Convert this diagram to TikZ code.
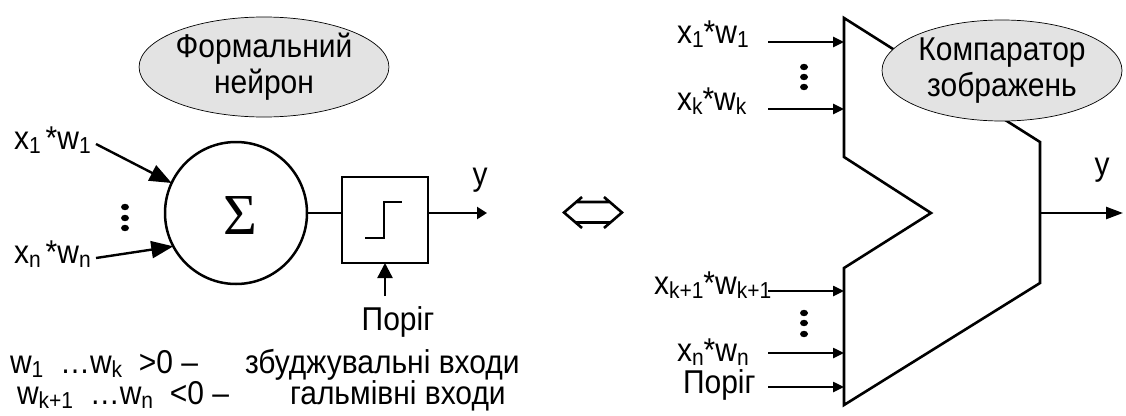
\documentclass[tikz,border=0pt]{standalone}
\usepackage{fontspec}
\setmainfont{Liberation Sans}
\newfontfamily\sigmafont{Liberation Serif}
\usetikzlibrary{arrows.meta,shapes.geometric}
\newcommand\sbs[1]{\raisebox{-4pt}[0pt][0pt]{\fontsize{21}{21}\selectfont #1}}
\newcommand\T[1]{\scalebox{1}[1.1]{#1}}
\begin{document}
\begin{tikzpicture}[x=1pt,y=-1pt,
  every node/.style={inner sep=0pt,outer sep=0pt},
  font=\fontsize{30}{32}\selectfont,
  wire/.style={line width=2.4pt},
  bigarrow/.style={line width=2.4pt,-{Triangle[length=22pt,width=17pt]}},
  midarrow/.style={line width=2.4pt,-{Triangle[length=15pt,width=15pt]}},
  smallarrow/.style={line width=2.4pt,-{Triangle[length=11pt,width=10pt]}},
  leftout/.style={line width=2.4pt,-{Triangle[length=10pt,width=12pt]}},
  outarrow/.style={line width=2.4pt,-{Triangle[length=17pt,width=12pt]}},
  note/.style={ellipse,draw,line width=0.7pt,fill=black!11,align=center,
    font=\fontsize{30}{36}\selectfont},
  dotmark/.style={fill=black}]
\useasboundingbox (0,0) rectangle (1126,415);

% ---------- left: formal neuron ----------
\node[note,minimum width=234pt,minimum height=100pt] (nlabel) at (264,67) {\T{Формальний}\\\T{нейрон}};

\node[circle,draw,line width=2.5pt,minimum size=142pt] (sum) at (236,213) {};
\node[font=\sigmafont\fontsize{58}{58}\selectfont] (sigma) at (240,216) {Σ};
\node[draw,line width=2.5pt,minimum size=86pt] (thbox) at (385,220) {};
\draw[wire] ([shift={(-20,18)}]thbox.center) -- ++(19,0) -- ++(0,-36) -- ++(18,0);

\node[anchor=base west] (x1l) at (14,149) {\T{x\sbs{1}\,*w\sbs{1}}};
\node[anchor=base west] (xnl) at (14,263) {\T{x\sbs{n}\,*w\sbs{n}}};
\coordinate (x1s) at (96,144);
\coordinate (xns) at (96,258);
\draw[bigarrow] (x1s) -- (sum.155);
\draw[bigarrow] (xns) -- (sum.208);

\foreach \yy in {207,218,228} \fill[dotmark] (125,\yy) ellipse (4pt and 3.2pt);

\draw[wire] (sum.east) -- (sum.east -| thbox.west);
\coordinate (yout) at (487,213);
\draw[leftout] (sum.east -| thbox.east) -- (yout);
\node (ylab) at (480,180) {\T{y}};

\node (thr) at (398,322) {\T{Поріг}};
\coordinate (thrs) at (385,296);
\draw[midarrow] (thrs) -- (thrs |- thbox.south);

\node[anchor=base west] (wpos) at (10,373) {\T{w\sbs{1}\ \ …w\sbs{k}\ \ >0 –}};
\node[anchor=base west] (epos) at (245,373) {\T{збуджувальні входи}};
\node[anchor=base west] (wneg) at (17,404) {\T{w\sbs{k+1}\ \ …w\sbs{n}\ \ <0 –}};
\node[anchor=base west] (eneg) at (290,404) {\T{гальмівні входи}};

% ---------- equivalence sign ----------
\draw[line width=2.6pt,line join=miter]
  (582,197) -- (564,212.5) -- (582,228)
  (604,197) -- (622,212.5) -- (604,228)
  (576,202) -- (610,202)
  (576,222.5) -- (610,222.5);

% ---------- right: image comparator ----------
\coordinate (A) at (844,18);
\coordinate (B) at (1040,142);
\coordinate (C) at (1040,283);
\coordinate (D) at (844,405);
\coordinate (E) at (844,268);
\coordinate (F) at (931,213);
\coordinate (G) at (844,157);
\draw[line width=2.6pt,line join=miter] (A) -- (B) -- (C) -- (D) -- (E) -- (F) -- (G) -- cycle;

\node[note,minimum width=240pt,minimum height=101pt] (clabel) at (1002,70.5) {\T{Компаратор}\\\T{зображень}};

\node[anchor=base west] (r1) at (677,43) {\T{x\sbs{1}*w\sbs{1}}};
\node[anchor=base west] (rk) at (677,110) {\T{x\sbs{k}*w\sbs{k}}};
\node[anchor=base west] (rk1) at (654,294) {\T{x\sbs{k+1}*w\sbs{k+1}}};
\node[anchor=base west] (rn) at (677,361) {\T{x\sbs{n}*w\sbs{n}}};
\node[anchor=base west] (rt) at (683,393) {\T{Поріг}};

\foreach \nm/\yy in {i1/42,ik/109,ik1/291,in/353,it/387}{
  \coordinate (\nm e) at (844,\yy);
  \coordinate (\nm s) at (768,\yy);
}
\draw[smallarrow] (i1s) -- (i1e);
\draw[smallarrow] (iks) -- (ike);
\draw[smallarrow] (ik1s) -- (ik1e);
\draw[smallarrow] (ins) -- (ine);
\draw[smallarrow] (its) -- (ite);

\foreach \yy in {67,77,87} \fill[dotmark] (804,\yy) ellipse (4pt and 3.2pt);
\foreach \yy in {313,323,334} \fill[dotmark] (804,\yy) ellipse (4pt and 3.2pt);

\coordinate (cout) at (1040,213);
\coordinate (cend) at (1123,213);
\draw[outarrow] (cout) -- (cend);
\node (ylab2) at (1102,170) {\T{y}};
\end{tikzpicture}
\end{document}
